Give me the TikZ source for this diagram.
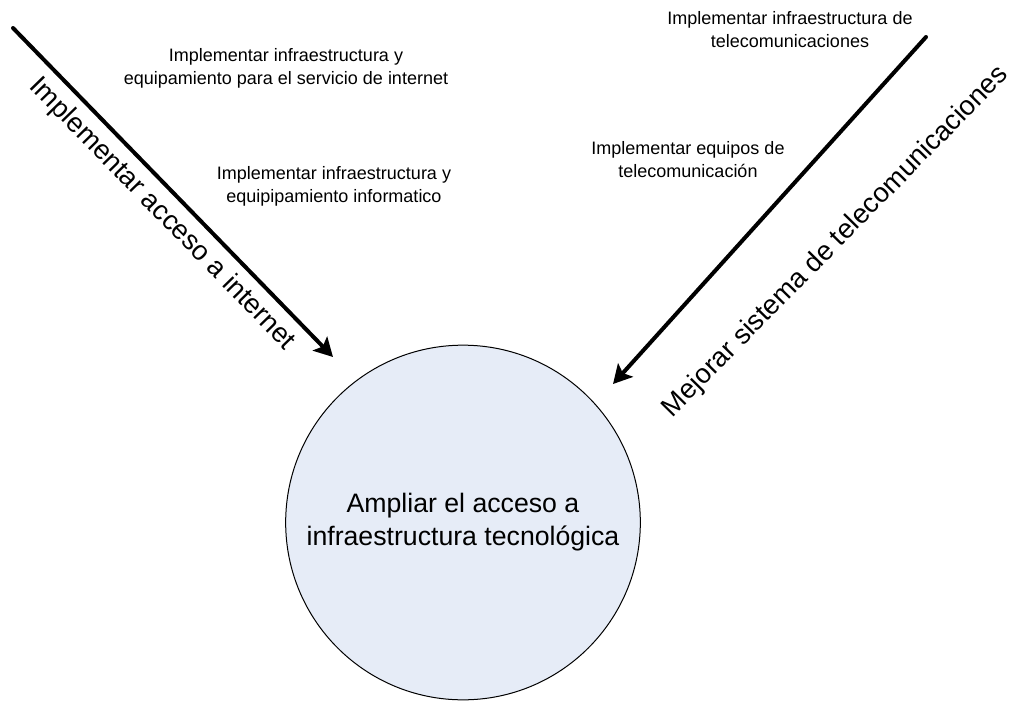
\documentclass[tikz,border=0pt]{standalone}
\usepackage{fontspec}
\setmainfont{Liberation Sans}
\usetikzlibrary{arrows.meta}
\definecolor{goalfill}{RGB}{230,236,247}
\begin{document}
\begin{tikzpicture}[x=0.75pt, y=-0.75pt,
    smalltxt/.style={align=center, inner sep=0pt, font=\fontsize{13.5}{17.25}\selectfont},
    bigtxt/.style={inner sep=0pt, font=\fontsize{20.5}{24}\selectfont},
    goal/.style={draw, circle, fill=goalfill, line width=0.75pt, inner sep=0pt,
      minimum size=266pt, align=center,
      font=\fontsize{20}{24.75}\selectfont},
    bigarrow/.style={line width=3pt, line cap=round, -{Stealth[length=14pt, width=15pt, inset=3pt]}}]
    \useasboundingbox (0,0) rectangle (1015,704);
    % Central goal
    \node (goal) [goal] at (463,522.5) {Ampliar el acceso a\\infraestructura tecnológica};
    % Actions
    \node (inetsrv) [smalltxt] at (286,68) {Implementar infraestructura y\\equipamiento para el servicio de internet};
    \node (inetinf) [smalltxt] at (334,186) {Implementar infraestructura y\\equipipamiento informatico};
    \node (teleinf) [smalltxt] at (790,30) {Implementar infraestructura de\\telecomunicaciones};
    \node (teleeq) [smalltxt] at (688,160) {Implementar equipos de\\telecomunicación};
    % Arrows
    \coordinate (inetstart) at (13,28);
    \coordinate (inetend) at (333,357);
    \coordinate (telestart) at (926,37);
    \coordinate (teleend) at (613,384);
    \draw[bigarrow] (inetstart) -- (inetend);
    \draw[bigarrow] (telestart) -- (teleend);
    % Arrow labels
    \node (inetlbl) [bigtxt, rotate=-45.7] at (162,214) {Implementar acceso a internet};
    \node (telelbl) [bigtxt, rotate=45.5] at (836,242) {Mejorar sistema de telecomunicaciones};
\end{tikzpicture}
\end{document}
